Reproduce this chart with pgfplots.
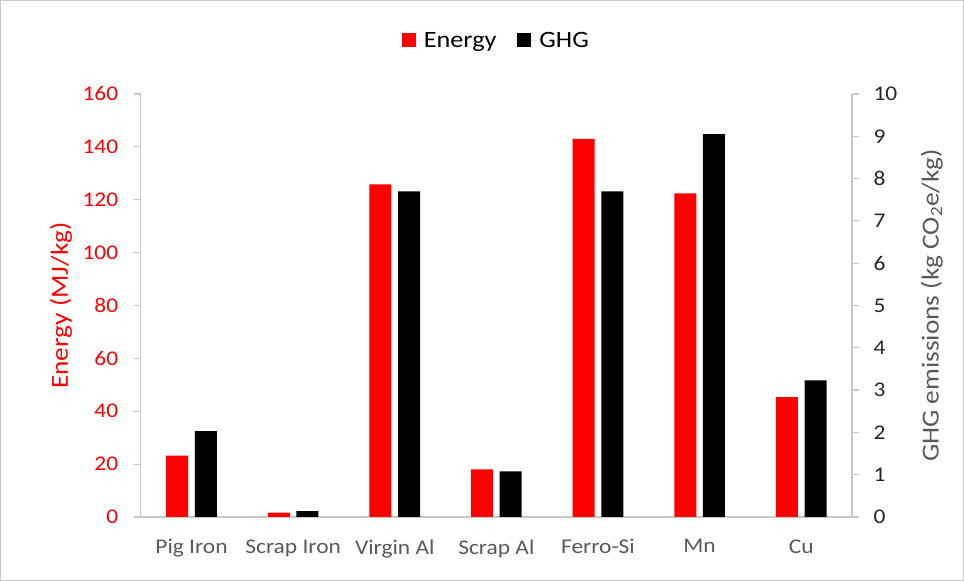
\documentclass[border=0pt]{standalone}
\usepackage{fontspec}
\setmainfont{Carlito}[FakeStretch=1.12]
\usepackage{pgfplots}
\pgfplotsset{compat=1.18}
\definecolor{axgray}{HTML}{C8C8C8}
\definecolor{txtgray}{HTML}{595959}
\definecolor{ticktxt}{HTML}{262626}
\begin{document}
\begin{tikzpicture}[x=1bp,y=1bp]
\draw[axgray, line width=1bp] (0.5,0.5) rectangle (963.5,580.5);
\begin{axis}[
  at={(140.7bp,64bp)}, anchor=south west, scale only axis,
  width=711.3bp, height=423bp,
  xmin=-0.5, xmax=6.5, ymin=0, ymax=160,
  axis y line*=left, axis x line*=bottom,
  axis line style={axgray, line width=1.2bp},
  xtick={0,...,6},
  xticklabels={Pig Iron, Scrap Iron, Virgin Al, Scrap Al, Ferro-Si, Mn, Cu},
  x tick label style={font=\fontsize{21}{21}\selectfont, text=txtgray, yshift=-12bp},
  x tick style={draw=none},
  ytick={0,20,...,160},
  y tick label style={font=\fontsize{21}{21}\selectfont, text=red, xshift=-12bp},
  y tick style={axgray, line width=1.2bp},
  tick align=outside, major tick length=7bp,
  /pgf/number format/assume math mode=true,
  ylabel={Energy (MJ/kg)},
  every axis y label/.style={at={(axis description cs:-0.112,0.5)}, anchor=center, rotate=90,
    font=\fontsize{24.5}{24.5}\selectfont, text=red},
  ybar, bar width=22bp,
  legend columns=2,
  legend style={draw=none, at={(0.5,1)}, anchor=south, yshift=41bp,
    font=\fontsize{23.5}{23.5}\selectfont, /tikz/every even column/.append style={column sep=19bp}},
  legend image code/.code={\fill[#1] (0bp,-7bp) rectangle (14bp,7bp); \path (0bp,0bp) -- (20bp,0bp);},
]
\addplot[fill=red, draw=none, bar shift=-14.3bp] coordinates {
  (0,23.2) (1,1.7) (2,125.8) (3,18.0) (4,143.0) (5,122.4) (6,45.3)};
\addlegendentry{Energy}
\addlegendimage{fill=black, draw=none}
\addlegendentry{GHG}
\end{axis}
\begin{axis}[
  at={(140.7bp,64bp)}, anchor=south west, scale only axis,
  width=711.3bp, height=423bp,
  xmin=-0.5, xmax=6.5, ymin=0, ymax=10,
  axis y line*=right, axis x line=none,
  axis line style={axgray, line width=1.2bp},
  ytick={0,1,...,10},
  y tick label style={font=\fontsize{21}{21}\selectfont, text=ticktxt, xshift=11bp},
  y tick style={axgray, line width=1.2bp},
  tick align=outside, major tick length=7bp,
  /pgf/number format/assume math mode=true,
  ylabel={GHG emissions (kg CO\textsubscript{2}e/kg)},
  every axis y label/.style={at={(axis description cs:1.112,0.5)}, anchor=center, rotate=90,
    font=\fontsize{24.5}{24.5}\selectfont, text=txtgray},
  ybar, bar width=22bp,
]
\addplot[fill=black, draw=none, bar shift=14.3bp] coordinates {
  (0,2.03) (1,0.14) (2,7.70) (3,1.08) (4,7.70) (5,9.05) (6,3.23)};
\end{axis}
\end{tikzpicture}
\end{document}
